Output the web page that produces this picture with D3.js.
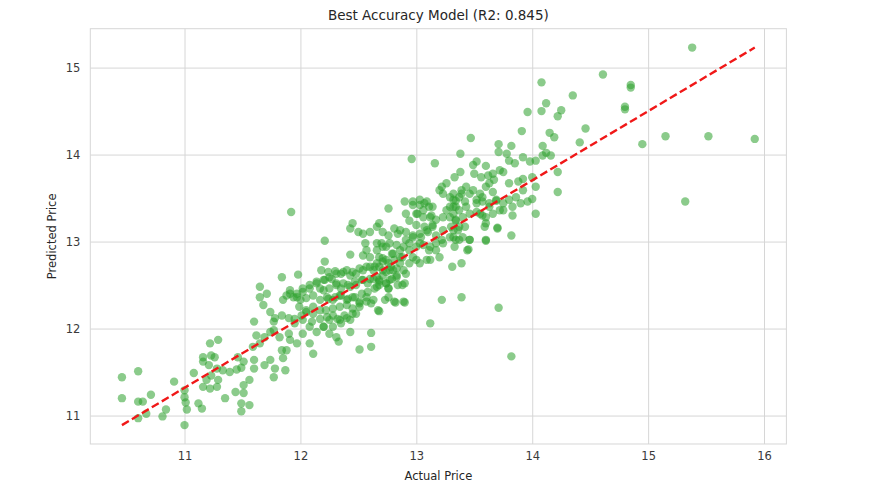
<!DOCTYPE html>
<html>
<head>
<meta charset="utf-8">
<script src="https://cdn.jsdelivr.net/npm/d3@7"></script>
<style>
  body { margin: 0; background: #fff; }
  svg { display: block; font-family: "DejaVu Sans", sans-serif; }
</style>
</head>
<body>
<svg id="chart" width="887" height="502"></svg>
<script>
// Valeurs (prix réel, prix prédit)
const actualPrice = [
  10.46, 10.60, 10.46, 10.60, 10.64, 10.71, 10.60, 10.67, 10.81, 10.84,
  10.91, 11.00, 11.00, 11.00, 11.01, 11.02, 11.08, 11.12, 11.15, 11.16,
  11.16, 11.16, 11.19, 11.23, 11.28, 11.29, 11.22, 11.22, 11.23, 11.29,
  11.26, 11.21, 11.28, 11.35, 11.33, 11.39, 11.45, 11.49, 11.51, 11.46,
  11.44, 11.51, 11.56, 11.51, 11.49, 11.56, 11.49, 11.60, 11.60, 11.59,
  11.60, 11.62, 11.65, 11.69, 11.74, 11.77, 11.65, 11.68, 11.69, 11.74,
  11.77, 11.78, 11.85, 11.87, 11.88, 11.84, 11.65, 11.71,
  11.92, 12.76, 12.45, 12.43, 12.50, 12.54, 12.60, 12.66, 12.68, 12.71,
  12.76, 12.81, 12.84, 12.21, 12.43, 12.56, 12.57, 12.54, 12.60, 12.66,
  12.70, 12.74, 12.79, 12.83, 12.81, 12.76, 12.71, 12.21, 12.18, 12.24,
  12.30, 12.35, 12.40, 12.45, 12.51, 12.57, 12.63, 12.68, 12.74, 12.80,
  12.83, 11.84, 11.98, 11.91, 11.97, 12.02, 12.08, 12.14, 12.17, 12.11,
  12.05, 12.00, 11.94, 11.88, 11.85, 12.21, 12.27, 12.31, 12.35, 12.41,
  12.47, 12.53, 12.58, 12.63, 12.68, 12.74, 12.79, 12.84, 12.23, 12.28,
  12.34, 12.40, 12.45, 12.51, 12.57, 12.61, 12.67, 12.73, 12.81, 11.74,
  11.78, 11.84, 11.90, 11.95, 12.01, 12.05, 12.11, 12.17, 12.23, 12.28,
  12.34, 12.40, 12.45, 12.51, 11.77, 11.82, 11.90, 11.91, 11.97, 12.02,
  12.08, 12.14, 12.20, 12.25, 12.31, 12.33, 12.43, 12.51, 12.61, 12.61,
  12.08, 12.11,
  13.47, 13.71, 13.82, 13.91, 14.15, 14.19, 14.09, 13.38, 12.96, 13.16,
  13.52, 13.49, 13.60, 13.71, 13.78, 13.80, 13.85, 13.92, 13.98, 14.03,
  14.09, 14.12, 14.16, 13.38, 13.33, 13.26, 13.20, 13.22, 13.23, 13.32,
  13.39, 13.43, 13.50, 13.56, 13.62, 13.66, 13.72, 13.75, 13.67, 13.63,
  13.80, 13.88, 13.92, 14.00, 14.03, 13.92, 13.86, 13.80, 14.22, 14.03,
  14.00, 13.96, 13.90, 13.83, 13.83, 13.75, 13.69, 13.63, 13.57, 13.52,
  13.46, 13.42, 13.37, 13.32, 13.29, 13.26, 13.34, 13.52, 13.57, 13.60,
  13.70, 13.60, 13.82, 13.46, 13.45, 13.39, 13.31, 13.20, 12.90, 12.97,
  13.03, 13.09, 13.14, 12.91, 13.00, 13.06, 13.12, 13.17, 13.23, 13.32,
  13.34, 13.37, 13.32, 13.23, 13.14, 13.09, 13.03, 12.97, 12.91, 12.86,
  12.89, 12.94, 13.03, 13.12, 13.17, 13.12, 13.00, 12.94, 12.89, 12.86,
  13.23, 13.29, 13.34, 13.40, 12.90,
  15.38, 14.61, 14.08, 14.85, 14.85, 14.35, 14.12, 13.96, 14.08, 14.25,
  14.22, 14.80, 14.80, 14.46, 14.41, 14.95, 15.15, 15.52, 15.92, 15.32,
  14.22,
  13.22, 13.39, 13.71, 13.12, 13.82, 12.82, 12.90, 12.76, 12.76, 12.68,
  12.89,
  // zone dense (centre)
  12.97, 13.03, 13.07, 13.11, 13.01, 13.06, 13.13, 12.94, 13.00, 13.07,
  13.14, 12.91, 12.97, 13.04, 13.10, 13.17, 12.94, 13.00, 13.06, 13.11,
  13.17, 13.22, 12.88, 12.97, 13.03, 13.09, 13.29, 13.34, 13.39, 13.32,
  13.37, 13.43, 13.29, 13.34, 13.40, 13.46, 13.30, 13.36, 13.42, 13.32,
  13.37, 13.33, 13.46, 13.44, 13.49, 13.55, 13.60, 13.66, 13.52, 13.57,
  13.63, 13.69, 13.55, 13.60, 13.66, 13.72, 13.75, 13.59, 13.70, 13.60,
  12.66, 12.71, 12.77, 12.68, 12.74, 12.80, 12.86, 12.64, 12.71, 12.78,
  12.86, 12.68, 12.77, 12.83, 12.91, 12.88, 12.76, 12.66,
  // zone dense (gauche)
  11.91, 11.97, 12.02, 12.08, 12.14, 12.20, 12.25, 12.31, 12.37, 12.43,
  12.48, 12.54, 12.60, 12.66, 12.71, 12.20, 12.25, 12.31, 12.37, 12.43,
  12.48, 12.54, 12.60, 12.66, 12.71, 12.77, 12.83, 12.17, 12.24, 12.30,
  12.35, 12.41, 12.47, 12.53, 12.58, 12.64, 12.68, 12.74, 12.22, 12.28,
  12.34, 12.40, 12.45, 12.51, 12.57, 12.63, 11.99, 12.05, 12.11, 11.95,
  12.02, 12.10, 12.17, 12.25, 12.32, 12.38, 12.20, 12.28, 12.35, 12.43,
  12.48
];

const predictedPrice = [
  11.44, 11.51, 11.20, 11.16, 11.16, 11.24, 10.97, 11.02, 10.99, 11.07,
  11.39, 10.89, 11.29, 11.21, 11.15, 11.07, 11.49, 11.14, 11.08, 11.62,
  11.67, 11.33, 11.41, 11.46, 11.33, 11.41, 11.31, 11.83, 11.69, 11.87,
  11.67, 11.58, 11.54, 11.20, 11.52, 11.50, 11.53, 11.55, 11.62, 11.67,
  11.27, 11.35, 11.41, 11.26, 11.14, 11.12, 11.05, 11.54, 11.64, 11.79,
  12.08, 11.92, 11.83, 11.90, 11.96, 12.08, 12.36, 12.27, 11.58, 11.64,
  11.44, 11.54, 11.66, 11.52, 11.75, 11.75, 12.48, 12.40,
  13.34, 13.38, 13.21, 13.15, 13.11, 13.09, 13.11, 13.17, 13.21, 13.11,
  13.07, 13.15, 13.09, 13.01, 12.85, 12.98, 12.90, 12.84, 12.82, 12.90,
  12.98, 12.94, 12.86, 12.96, 12.79, 12.75, 12.81, 12.77, 12.67, 12.65,
  12.66, 12.63, 12.67, 12.65, 12.69, 12.71, 12.67, 12.71, 12.65, 12.67,
  12.61, 12.59, 12.62, 12.44, 12.40, 12.46, 12.50, 12.54, 12.46, 12.38,
  12.35, 12.33, 12.36, 12.38, 12.33, 12.56, 12.57, 12.52, 12.46, 12.50,
  12.54, 12.56, 12.52, 12.57, 12.54, 12.52, 12.57, 12.50, 12.36, 12.33,
  12.38, 12.33, 12.36, 12.31, 12.36, 12.29, 12.21, 12.33, 12.31, 12.19,
  12.12, 12.15, 12.12, 12.06, 12.15, 12.19, 12.25, 12.21, 12.13, 12.15,
  12.10, 12.12, 12.17, 12.25, 11.98, 11.90, 11.94, 11.87, 11.83, 11.94,
  12.02, 11.96, 12.02, 11.94, 11.90, 11.85, 11.96, 11.76, 11.79, 11.95,
  11.83, 11.71,
  14.19, 14.12, 14.10, 14.27, 14.25, 14.20, 14.10, 14.01, 13.95, 13.90,
  13.92, 13.88, 13.87, 14.03, 14.01, 13.93, 13.90, 13.97, 13.92, 13.93,
  13.99, 14.02, 13.99, 13.80, 13.74, 13.67, 13.59, 13.63, 13.55, 13.55,
  13.59, 13.63, 13.78, 13.74, 13.76, 13.78, 13.82, 13.80, 13.71, 13.67,
  13.67, 13.69, 13.72, 13.74, 13.63, 13.59, 13.51, 13.48, 13.57, 13.32,
  13.49, 13.46, 13.44, 13.40, 13.30, 13.36, 13.48, 13.40, 13.51, 13.48,
  13.55, 13.46, 13.51, 13.48, 13.40, 13.36, 13.40, 13.34, 13.30, 13.21,
  13.16, 13.01, 13.07, 13.02, 12.91, 12.75, 12.71, 12.82, 13.46, 13.42,
  13.48, 13.46, 13.40, 13.32, 13.32, 13.36, 13.28, 13.25, 13.28, 13.32,
  13.25, 13.17, 13.13, 13.13, 13.17, 13.13, 13.09, 13.05, 13.02, 13.13,
  12.94, 12.90, 12.98, 12.94, 12.90, 12.79, 12.79, 12.75, 12.67, 12.82,
  12.98, 13.05, 13.02, 13.05, 12.52,
  15.23, 14.92, 14.83, 14.80, 14.77, 14.68, 14.59, 14.49, 14.50, 14.51,
  14.44, 14.55, 14.52, 14.30, 14.14, 14.12, 14.21, 14.21, 14.18, 13.46,
  13.80,
  12.33, 12.36, 12.24, 12.06, 11.68, 12.30, 12.30, 12.36, 12.46, 12.20,
  12.31,
  // zone dense (centre)
  13.46, 13.42, 13.44, 13.40, 13.32, 13.28, 13.30, 13.24, 13.19, 13.17,
  13.19, 13.11, 13.07, 13.05, 13.11, 13.07, 12.98, 12.94, 12.96, 12.90,
  12.98, 13.02, 12.82, 12.82, 12.75, 12.79, 13.51, 13.47, 13.55, 13.40,
  13.36, 13.40, 13.28, 13.24, 13.28, 13.32, 13.17, 13.13, 13.17, 13.05,
  13.02, 12.94, 13.02, 12.90, 13.59, 13.55, 13.63, 13.57, 13.44, 13.46,
  13.44, 13.47, 13.32, 13.28, 13.32, 13.36, 13.44, 13.17, 13.15, 13.02,
  12.98, 12.94, 12.98, 12.82, 12.79, 12.86, 12.90, 12.71, 12.67, 12.71,
  12.75, 12.56, 12.56, 12.59, 12.63, 12.50, 12.46, 12.48,
  // zone dense (gauche)
  12.40, 12.36, 12.42, 12.46, 12.52, 12.56, 12.59, 12.63, 12.65, 12.61,
  12.63, 12.67, 12.71, 12.75, 12.77, 12.44, 12.46, 12.50, 12.52, 12.48,
  12.50, 12.56, 12.57, 12.59, 12.61, 12.67, 12.69, 12.33, 12.34, 12.36,
  12.38, 12.34, 12.36, 12.40, 12.42, 12.46, 12.50, 12.52, 12.21, 12.23,
  12.25, 12.27, 12.23, 12.29, 12.31, 12.33, 12.25, 12.21, 12.17, 12.11,
  12.10, 12.08, 12.11, 12.10, 12.11, 12.15, 12.02, 12.02, 12.06, 12.10,
  12.17
];

const xTicks = [11, 12, 13, 14, 15, 16];
const yTicks = [11, 12, 13, 14, 15];

const chartTitle = 'Best Accuracy Model (R2: 0.845)';
const xLabel = 'Actual Price';
const yLabel = 'Predicted Price';

const points = actualPrice.map((a, i) => ({ a, p: predictedPrice[i] }));

const svg = d3.select('#chart');

const margin = { top: 28.7, right: 100.6, bottom: 58, left: 90.3 };
const width = 887 - margin.left - margin.right;
const height = 502 - margin.top - margin.bottom;

// marges de 5 % comme matplotlib
const pad = (ext) => {
  const d = (ext[1] - ext[0]) * 0.05;
  return [ext[0] - d, ext[1] + d];
};

const xScale = d3.scaleLinear().domain(pad(d3.extent(actualPrice))).range([0, width]);
const yScale = d3.scaleLinear().domain(pad(d3.extent(predictedPrice))).range([height, 0]);

const g = svg.append('g').attr('transform', `translate(${margin.left},${margin.top})`);

// grille
g.append('g')
  .attr('transform', `translate(0,${height})`)
  .call(d3.axisBottom(xScale).tickValues(xTicks).tickSize(-height).tickFormat(''))
  .call((s) => s.select('.domain').remove())
  .selectAll('line').attr('stroke', '#d6d6d6');

g.append('g')
  .call(d3.axisLeft(yScale).tickValues(yTicks).tickSize(-width).tickFormat(''))
  .call((s) => s.select('.domain').remove())
  .selectAll('line').attr('stroke', '#d6d6d6');

// cadre
g.append('rect')
  .attr('width', width)
  .attr('height', height)
  .attr('fill', 'none')
  .attr('stroke', '#d6d6d6');

// points
g.append('g')
  .selectAll('circle')
  .data(points)
  .enter()
  .append('circle')
  .attr('cx', (d) => xScale(d.a))
  .attr('cy', (d) => yScale(d.p))
  .attr('r', 4.2)
  .attr('fill', '#2ca02c')
  .attr('fill-opacity', 0.55);

// ligne rouge (min -> max)
const lineData = [
  [d3.min(actualPrice), d3.min(predictedPrice)],
  [d3.max(actualPrice), d3.max(predictedPrice)]
];
g.append('path')
  .datum(lineData)
  .attr('d', d3.line().x((d) => xScale(d[0])).y((d) => yScale(d[1])))
  .attr('fill', 'none')
  .attr('stroke', '#f01818')
  .attr('stroke-width', 2.4)
  .attr('stroke-dasharray', '8,3.6');

// axes (étiquettes)
const xAxis = g.append('g')
  .attr('transform', `translate(0,${height})`)
  .call(d3.axisBottom(xScale).tickValues(xTicks).tickSize(0).tickPadding(8).tickFormat(d3.format('d')));
xAxis.select('.domain').remove();

const yAxis = g.append('g')
  .call(d3.axisLeft(yScale).tickValues(yTicks).tickSize(0).tickPadding(10).tickFormat(d3.format('d')));
yAxis.select('.domain').remove();

svg.selectAll('.tick text')
  .attr('font-family', '"DejaVu Sans", sans-serif')
  .attr('font-size', '11.5px')
  .attr('fill', '#3a3a3a');

// titre et libellés
svg.append('text')
  .attr('x', margin.left + width / 2)
  .attr('y', 20)
  .attr('text-anchor', 'middle')
  .attr('font-size', '13.5px')
  .attr('fill', '#262626')
  .text(chartTitle);

svg.append('text')
  .attr('x', margin.left + width / 2)
  .attr('y', 480)
  .attr('text-anchor', 'middle')
  .attr('font-size', '11.5px')
  .attr('fill', '#262626')
  .text(xLabel);

svg.append('text')
  .attr('transform', `translate(56,${margin.top + height / 2}) rotate(-90)`)
  .attr('text-anchor', 'middle')
  .attr('font-size', '11.5px')
  .attr('fill', '#262626')
  .text(yLabel);
</script>
</body>
</html>
